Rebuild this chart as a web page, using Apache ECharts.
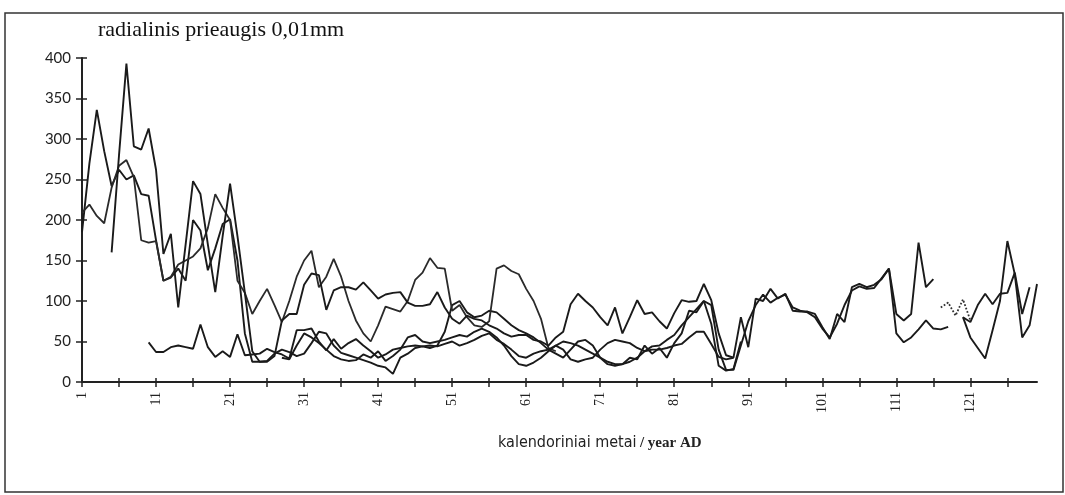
<!DOCTYPE html>
<html>
<head>
<meta charset="utf-8">
<script src="https://cdn.jsdelivr.net/npm/echarts@6/dist/echarts.min.js"></script>
<style>
html,body{margin:0;padding:0;background:#fff;}
#chart{width:1065px;height:495px;}
</style>
</head>
<body>
<div id="chart"></div>
<script>
// ---- data ----
const years = [];
for (let y = 1; y <= 130; y++) years.push(String(y));

const yTicks = [0, 50, 100, 150, 200, 250, 300, 350, 400];

// series 1 starts in year 1
const s1Start = 1;
const s1 = [185,270,336,285,242,262,250,255,232,230,
  175,125,129,140,125,200,187,138,165,195,
  201,150,60,25,25,26,35,40,37,32,
  35,48,62,60,45,36,33,30,27,24,
  20,18,10,30,35,42,44,42,45,62,
  95,100,86,80,82,88,86,78,70,64,
  60,55,48,40,35,30,40,50,52,45,
  30,22,20,22,30,28,45,35,42,30,
  48,60,88,86,100,95,40,15,15,45,
  75,95,108,98,104,108,92,88,86,80,
  66,55,72,95,113,118,115,116,128,140,
  60,49,55,65,76,66,65,68,null,80,
  55,42,29,64,100,174,133,55,70,121];

// series 2 starts in year 1
const s2Start = 1;
const s2 = [209,219,205,196,240,267,274,253,175,172,
  174,125,130,145,150,155,165,190,232,215,
  200,125,110,84,100,115,95,74,100,130,
  150,162,117,130,152,130,100,76,60,50,
  70,93,90,87,100,126,135,153,141,140,
  88,95,80,70,68,75,140,144,137,133,
  115,100,78,42,38];

// series 3 starts in year 5
const s3Start = 5;
const s3 = [160,280,393,291,287,313,
  262,158,183,92,170,248,232,170,111,180,
  245,180,110,38,25,25,32,76,84,84,
  120,134,132,89,113,117,117,114,123,113,
  103,108,110,111,98,94,94,96,111,92,
  78,72,82,78,76,70,66,60,56,58,
  58,52,50,45,55,62,96,109,100,92,
  80,70,92,60,80,101,84,86,75,66,
  85,101,99,100,121,101,60,33,30,80,
  43,103,100,115,103,109,88,87,87,84,
  68,53,84,74,117,121,117,120,127,140,
  84,76,84,172,117,127,null,null,null,
  80,74,95,109,96,109,110,135,84,117];

// series 4 starts in year 10
const s4Start = 10;
const s4 = [49,
  37,37,43,45,43,41,71,43,31,38,
  31,59,33,34,35,41,37,34,29,64,
  64,66,50,39,53,41,48,53,45,38,
  30,34,40,42,44,45,44,45,44,47,
  50,45,48,52,57,60,52,47,40,32,
  30,35,38,40,45,50,48,45,40,35,
  30,25,22,22,25,30,38,40,40,42,
  45,47,55,62,62,47,31,28,30];

// series 5 starts in year 28
const s5Start = 28;
const s5 = [30,28,45,
  60,55,48,40,32,28,26,27,34,30,
  38,26,32,40,55,58,50,48,50,52,
  55,58,56,62,66,62,55,45,32,22,
  20,24,30,38,45,40,28,25,28,30,
  40,48,52,50,48,42,38,44,45,52,
  58,70,80,90,100,72,20,14,16,50];

// dotted fragment, starts in year 117
const s6Start = 117;
const s6 = [92,98,82,102,76];

// ---- build padded series for the category axis ----
function pad(start, vals) {
  const out = new Array(years.length).fill(null);
  vals.forEach((v, i) => { out[start - 1 + i] = v; });
  return out;
}

const lineColor = '#1a1a1a';
function lineSeries(name, data, type, width, color) {
  return {
    name: name,
    type: 'line',
    data: data,
    symbol: 'none',
    connectNulls: false,
    lineStyle: { color: color || lineColor, width: width || 1.9, type: type || 'solid' },
    z: 3
  };
}

const chart = echarts.init(document.getElementById('chart'), null, { renderer: 'canvas' });

const xCommon = {
  type: 'category',
  data: years,
  boundaryGap: false,
  position: 'bottom',
  gridIndex: 0
};
const yCommon = {
  type: 'value',
  min: 0,
  max: 400,
  interval: 50,
  position: 'left',
  gridIndex: 0,
  splitLine: { show: false }
};

chart.setOption({
  animation: false,
  backgroundColor: '#ffffff',
  grid: { left: 82, right: 28, top: 58, bottom: 113, containLabel: false },
  xAxis: [
    Object.assign({}, xCommon, {
      axisLine: { show: true, lineStyle: { color: '#222', width: 2 } },
      axisTick: { show: true, interval: 4, length: 5, inside: false, lineStyle: { color: '#222', width: 1.5 } },
      axisLabel: {
        interval: 9, rotate: 90, margin: 10,
        fontFamily: "'Liberation Serif','DejaVu Serif',serif", fontSize: 14, color: '#222'
      }
    }),
    Object.assign({}, xCommon, {
      axisLine: { show: false },
      axisTick: { show: true, interval: 4, length: 4, inside: true, lineStyle: { color: '#222', width: 1.5 } },
      axisLabel: { show: false }
    })
  ],
  yAxis: [
    Object.assign({}, yCommon, {
      axisLine: { show: true, lineStyle: { color: '#222', width: 2 } },
      axisTick: { show: true, length: 6, inside: false, lineStyle: { color: '#222', width: 1.5 } },
      axisLabel: {
        margin: 11, fontFamily: "Lato,'Open Sans',sans-serif", fontSize: 15, color: '#222',
        formatter: function (v) { return yTicks.indexOf(v) >= 0 ? String(v) : ''; }
      }
    }),
    Object.assign({}, yCommon, {
      axisLine: { show: false },
      axisTick: { show: true, length: 5, inside: true, lineStyle: { color: '#222', width: 1.5 } },
      axisLabel: { show: false }
    })
  ],
  series: [
    lineSeries('s1', pad(s1Start, s1)),
    lineSeries('s2', pad(s2Start, s2), 'solid', 1.8, '#2a2a2a'),
    lineSeries('s3', pad(s3Start, s3)),
    lineSeries('s4', pad(s4Start, s4)),
    lineSeries('s5', pad(s5Start, s5)),
    lineSeries('s6', pad(s6Start, s6), 'dotted', 1.8, '#333')
  ],
  graphic: [
    {
      type: 'rect',
      shape: { x: 5, y: 13, width: 1058, height: 479 },
      style: { fill: 'none', stroke: '#333', lineWidth: 1.5 },
      silent: true, z: 1
    },
    {
      type: 'text',
      left: 98, top: 19,
      style: {
        text: 'radialinis prieaugis 0,01mm',
        fontFamily: "'Liberation Serif','DejaVu Serif',serif",
        fontSize: 22, fill: '#111'
      },
      z: 5
    },
    {
      type: 'text',
      left: 498, top: 435,
      style: {
        text: '{a|kalendoriniai metai} {b|/ year AD}',
        rich: {
          a: { fontFamily: "'Liberation Sans Narrow','DejaVu Sans Condensed','Liberation Sans',sans-serif", fontSize: 16, fill: '#222' },
          b: { fontFamily: "'Liberation Serif','DejaVu Serif',serif", fontSize: 15, fontWeight: 'bold', fill: '#222' }
        }
      },
      z: 5
    }
  ]
});
</script>
</body>
</html>
